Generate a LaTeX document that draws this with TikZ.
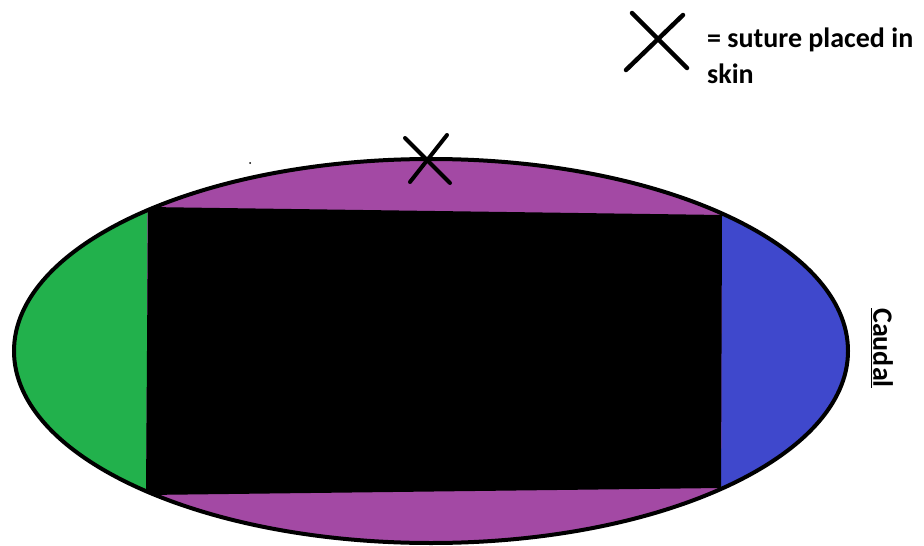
\documentclass[tikz,border=0pt]{standalone}
\usepackage{fontspec}
\setmainfont{Carlito}
\definecolor{mspurple}{RGB}{163,73,164}
\definecolor{msgreen}{RGB}{34,177,76}
\definecolor{msblue}{RGB}{63,72,204}
\begin{document}
\begin{tikzpicture}[x=1pt,y=-1pt,
  outline/.style={line width=4pt},
  cross/.style={line width=4pt,line cap=round},
  legendtext/.style={font=\bfseries\fontsize{28}{36}\selectfont,anchor=base west,inner sep=0pt}]
\useasboundingbox (0,0) rectangle (924,546);
% body
\begin{scope}
  \clip (431,351) ellipse [x radius=417, y radius=192];
  \fill[mspurple] (0,100) rectangle (924,560);
  \fill[msgreen] (0,100) -- (148,100) -- (146,560) -- (0,560) -- cycle;
  \fill[msblue] (722,100) -- (924,100) -- (924,560) -- (721,560) -- cycle;
  \fill[black] (148,207) -- (722,215) -- (721,488) -- (146,495) -- cycle;
\end{scope}
\draw[outline] (431,351) ellipse [x radius=417, y radius=192];
% suture on skin
\coordinate (s1a) at (405,138); \coordinate (s1b) at (450,183);
\coordinate (s2a) at (447,135); \coordinate (s2b) at (410,182);
\draw[cross] (s1a) -- (s1b);
\draw[cross] (s2a) -- (s2b);
% legend
\coordinate (l1a) at (632,13); \coordinate (l1b) at (687,68);
\coordinate (l2a) at (683,15); \coordinate (l2b) at (626,70);
\draw[cross,line width=4.5pt] (l1a) -- (l1b);
\draw[cross,line width=4.5pt] (l2a) -- (l2b);
\node[legendtext] (leg1) at (707,47) {= suture placed in};
\node[legendtext] (leg2) at (707,83) {skin};
% caudal label
\node[font=\bfseries\fontsize{28}{30}\selectfont,rotate=-90,inner sep=0pt] (caudal) at (882,348) {\underline{Caudal}};
% stray dot
\fill (250,163) circle (1pt);
\end{tikzpicture}
\end{document}
